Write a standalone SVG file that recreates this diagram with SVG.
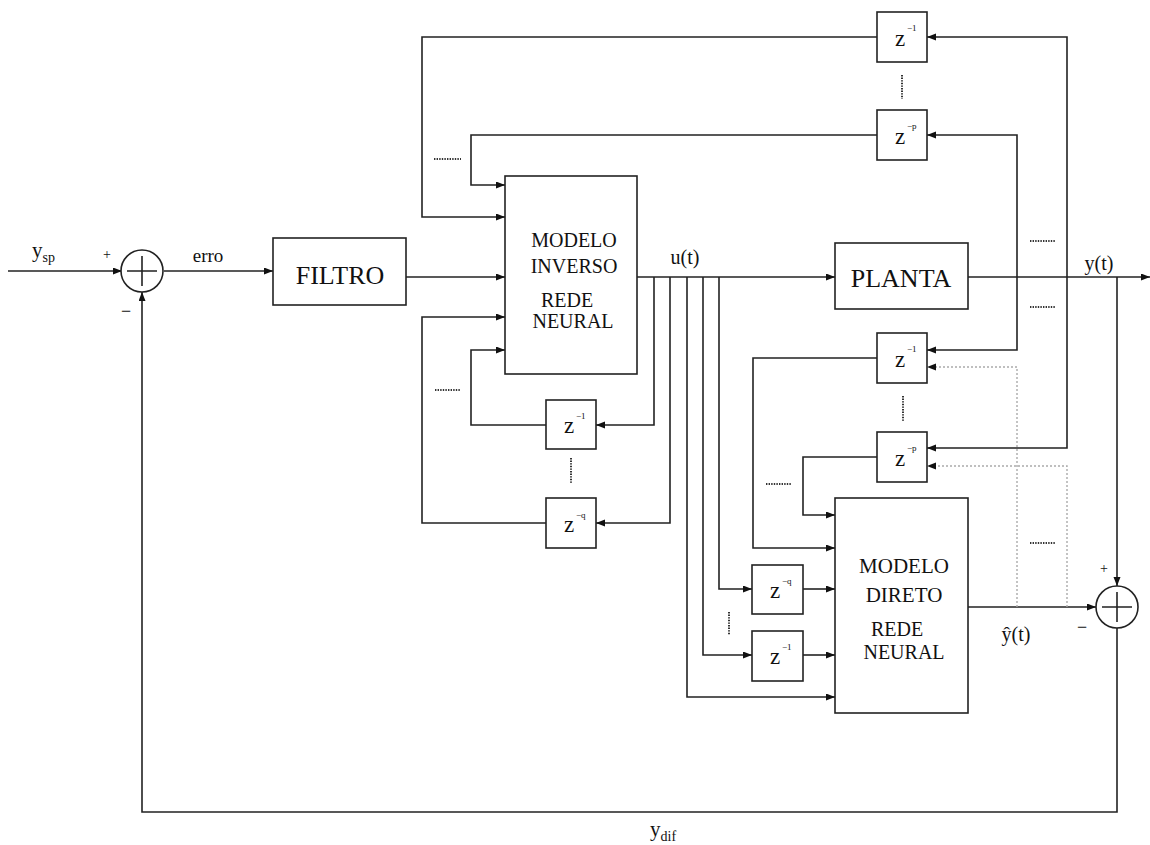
<svg xmlns="http://www.w3.org/2000/svg" width="1150" height="845" viewBox="0 0 1150 845">
<style>
.box{fill:#fff;stroke:#222;stroke-width:1.6}
.ln{fill:none;stroke:#222;stroke-width:1.6}
.dl{fill:none;stroke:#aaa;stroke-width:1.4;stroke-dasharray:2 2}
.dots{fill:none;stroke:#333;stroke-width:2;stroke-dasharray:1.4 1.2}
text{font-family:"Liberation Serif","Times New Roman",serif;fill:#111}
.big{font-size:26px;text-anchor:middle}
.mid{font-size:20px;text-anchor:middle}
.md{font-size:21px;text-anchor:middle}
.z{font-size:23px}
.sup{font-size:9px}
.lbl{font-size:19px}
</style>
<defs>
<marker id="ar" markerUnits="userSpaceOnUse" markerWidth="10" markerHeight="8" refX="9" refY="3.5" orient="auto">
<path d="M0,0 L9,3.5 L0,7 z" fill="#111"/>
</marker>
</defs>

<g id="connectors">
<path class="ln" d="M8,271 H122" marker-end="url(#ar)"/>
<path class="ln" d="M164,271 H273" marker-end="url(#ar)"/>
<path class="ln" d="M406,277 H505" marker-end="url(#ar)"/>
<path class="ln" d="M637,277 H835" marker-end="url(#ar)"/>
<path class="ln" d="M968,277 H1150" marker-end="url(#ar)"/>
<path class="ln" d="M877,37 H422 V217 H505" marker-end="url(#ar)"/>
<path class="ln" d="M877,135 H471 V185 H505" marker-end="url(#ar)"/>
<path class="ln" d="M654,277 V425 H596" marker-end="url(#ar)"/>
<path class="ln" d="M546,425 H471 V350 H505" marker-end="url(#ar)"/>
<path class="ln" d="M670,277 V523 H596" marker-end="url(#ar)"/>
<path class="ln" d="M546,523 H422 V317 H505" marker-end="url(#ar)"/>
<path class="ln" d="M687,277 V697 H835" marker-end="url(#ar)"/>
<path class="ln" d="M703,277 V655 H752" marker-end="url(#ar)"/>
<path class="ln" d="M803,655 H835" marker-end="url(#ar)"/>
<path class="ln" d="M719,277 V589 H752" marker-end="url(#ar)"/>
<path class="ln" d="M803,589 H835" marker-end="url(#ar)"/>
<path class="ln" d="M1017,277 V135 H927" marker-end="url(#ar)"/>
<path class="ln" d="M1017,277 V350 H927" marker-end="url(#ar)"/>
<path class="ln" d="M1067,277 V37 H927" marker-end="url(#ar)"/>
<path class="ln" d="M1067,277 V448 H927" marker-end="url(#ar)"/>
<path class="ln" d="M1117,277 V586" marker-end="url(#ar)"/>
<path class="ln" d="M877,358 H753 V548 H835" marker-end="url(#ar)"/>
<path class="ln" d="M877,457 H803 V515 H835" marker-end="url(#ar)"/>
<path class="ln" d="M968,607 H1096" marker-end="url(#ar)"/>
<path class="ln" d="M1117,628 V812 H142 V292" marker-end="url(#ar)"/>
<path class="dl" d="M1017,607 V367 H929"/>
<path class="ln" d="M936,367 H927" marker-end="url(#ar)" style="stroke:none"/>
<path class="dl" d="M1067,607 V466 H929"/>
<path class="ln" d="M936,466 H927" marker-end="url(#ar)" style="stroke:none"/>
</g>

<g id="dots">
<path class="dots" d="M434,159 H461 M435,390 H460 M766,484 H791 M1030,241 H1055 M1030,307 H1055 M1030,543 H1055"/>
<path class="dots" d="M902,75 V99 M571,458 V483 M903,396 V421 M729,612 V635"/>
</g>

<g id="sum1">
<circle cx="142" cy="271" r="21" class="box"/>
<path class="ln" d="M127,271 H157 M142,256 V286"/>
</g>
<g id="sum2">
<circle cx="1117" cy="607" r="21" class="box"/>
<path class="ln" d="M1102,607 H1132 M1117,592 V622"/>
</g>

<g id="filtro">
<rect class="box" x="273" y="238" width="133" height="67"/>
<text class="big" x="340" y="284">FILTRO</text>
</g>
<g id="planta">
<rect class="box" x="835" y="243" width="133" height="66"/>
<text class="big" x="901" y="287">PLANTA</text>
</g>
<g id="modelo-inverso">
<rect class="box" x="505" y="176" width="132" height="198"/>
<text class="mid" x="574" y="247">MODELO</text>
<text class="mid" x="574" y="273">INVERSO</text>
<text class="mid" x="567" y="307">REDE</text>
<text class="mid" x="573" y="328">NEURAL</text>
</g>
<g id="modelo-direto">
<rect class="box" x="835" y="498" width="133" height="215"/>
<text class="md" x="904" y="573">MODELO</text>
<text class="md" x="904" y="602">DIRETO</text>
<text class="md" x="897" y="636" style="font-size:20px">REDE</text>
<text class="md" x="904" y="659" style="font-size:20px">NEURAL</text>
</g>

<g id="zt1"><rect class="box" x="877" y="12" width="50" height="50"/><text class="z" x="895" y="46">z</text><text class="sup" x="907" y="31">−1</text></g>
<g id="ztp"><rect class="box" x="877" y="110" width="50" height="50"/><text class="z" x="895" y="144">z</text><text class="sup" x="907" y="129">−p</text></g>
<g id="zl1"><rect class="box" x="546" y="400" width="50" height="49"/><text class="z" x="564" y="433">z</text><text class="sup" x="576" y="419">−1</text></g>
<g id="zlq"><rect class="box" x="546" y="498" width="50" height="50"/><text class="z" x="564" y="532">z</text><text class="sup" x="576" y="518">−q</text></g>
<g id="zr1"><rect class="box" x="877" y="333" width="50" height="50"/><text class="z" x="895" y="367">z</text><text class="sup" x="907" y="352">−1</text></g>
<g id="zrp"><rect class="box" x="877" y="432" width="50" height="50"/><text class="z" x="895" y="466">z</text><text class="sup" x="907" y="451">−p</text></g>
<g id="zdq"><rect class="box" x="752" y="565" width="51" height="49"/><text class="z" x="770" y="598">z</text><text class="sup" x="782" y="584">−q</text></g>
<g id="zd1"><rect class="box" x="752" y="631" width="51" height="50"/><text class="z" x="770" y="664">z</text><text class="sup" x="782" y="650">−1</text></g>

<g id="labels">
<text class="lbl" x="32" y="257" style="font-size:21px">y<tspan font-size="14" dy="5">sp</tspan></text>
<text x="103" y="259" style="font-size:14px">+</text>
<text x="121" y="317" style="font-size:18px">−</text>
<text class="lbl" x="208" y="262" text-anchor="middle">erro</text>
<text class="lbl" x="685" y="264" text-anchor="middle" style="font-size:20px">u(t)</text>
<text class="lbl" x="1099" y="270" text-anchor="middle" style="font-size:20px">y(t)</text>
<text x="1100" y="573" style="font-size:14px">+</text>
<text x="1077" y="633" style="font-size:18px">−</text>
<text class="lbl" x="1016" y="641" text-anchor="middle" style="font-size:20px">ŷ(t)</text>
<text class="lbl" x="650" y="836" style="font-size:21px">y<tspan font-size="14" dy="5">dif</tspan></text>
</g>
</svg>
